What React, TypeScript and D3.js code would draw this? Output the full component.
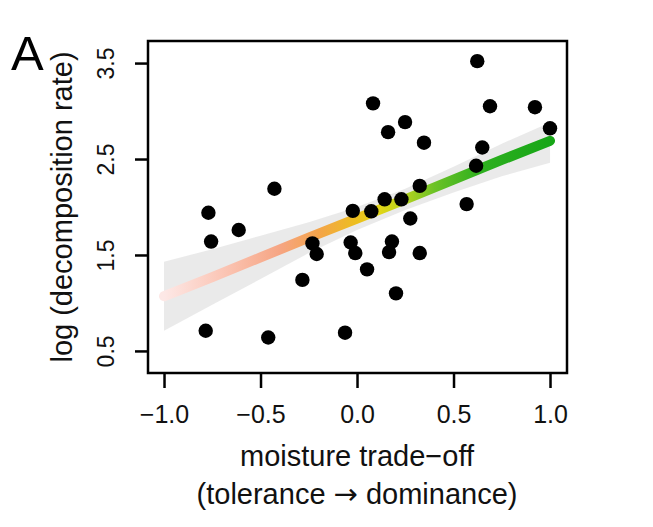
import React, { useEffect, useRef } from 'react';
import * as d3 from 'd3';

const WIDTH = 653;
const HEIGHT = 527;

const MARGIN = { top: 41, right: 86, bottom: 154, left: 148 };

// species: moisture trade-off score vs log decomposition rate
const tradeOff = [
  0.623, 0.083, 0.689, 0.922, 1.0, 0.249, 0.161, 0.347, 0.649, 0.617,
  -0.428, 0.325, -0.77, 0.143, 0.23, -0.022, 0.074, 0.568, 0.276, -0.613,
  -0.756, -0.231, -0.209, -0.033, -0.009, 0.181, 0.166, 0.325, 0.052, -0.283,
  0.202, -0.784, -0.46, -0.062,
];
const logRate = [
  3.52, 3.08, 3.05, 3.04, 2.82, 2.885, 2.78, 2.67, 2.62, 2.43,
  2.19, 2.22, 1.94, 2.08, 2.08, 1.96, 1.955, 2.03, 1.88, 1.76,
  1.64, 1.62, 1.51, 1.63, 1.52, 1.64, 1.53, 1.52, 1.35, 1.24,
  1.1, 0.71, 0.64, 0.69,
];

// fitted line and confidence band
const fitX = [-1, -0.75, -0.5, -0.25, 0, 0.25, 0.5, 0.75, 1];
const fitY = [1.07, 1.27, 1.475, 1.68, 1.88, 2.08, 2.285, 2.49, 2.69];
const bandLow = [0.71, 0.98, 1.25, 1.52, 1.76, 1.97, 2.15, 2.32, 2.46];
const bandHigh = [1.43, 1.56, 1.7, 1.84, 2.0, 2.19, 2.42, 2.66, 2.88];

const gradOffsets = [0, 0.15, 0.3, 0.4, 0.5, 0.56, 0.62, 0.7, 0.82, 1];
const gradColors = [
  '#fde8e6', '#fbc6b6', '#f6a583', '#f4a44a', '#ecbf1e',
  '#e0d516', '#b9d31e', '#6cc226', '#2eb01f', '#17a617',
];

const xTicks = [-1, -0.5, 0, 0.5, 1];
const yTicks = [0.5, 1.5, 2.5, 3.5];

const FONT = 'Liberation Sans, Arial, Helvetica, sans-serif';

export default function App() {
  const ref = useRef<SVGSVGElement>(null);

  useEffect(() => {
    const svg = d3.select(ref.current);
    svg.selectAll('*').remove();

    const x = d3.scaleLinear()
      .domain([-1.083, 1.088])
      .range([MARGIN.left, WIDTH - MARGIN.right]);

    const y = d3.scaleLinear()
      .domain([0.27, 3.73])
      .range([HEIGHT - MARGIN.bottom, MARGIN.top]);

    const grad = svg.append('defs')
      .append('linearGradient')
      .attr('id', 'fitGrad')
      .attr('gradientUnits', 'userSpaceOnUse')
      .attr('x1', x(-1)).attr('x2', x(1))
      .attr('y1', 0).attr('y2', 0);

    grad.selectAll('stop')
      .data(gradOffsets)
      .enter()
      .append('stop')
      .attr('offset', d => d)
      .attr('stop-color', (d, i) => gradColors[i]);

    const band = d3.area<number>()
      .x((d, i) => x(fitX[i]))
      .y0((d, i) => y(bandLow[i]))
      .y1((d, i) => y(bandHigh[i]));

    svg.append('path')
      .attr('d', band(fitX))
      .attr('fill', '#e6e6e6')
      .attr('opacity', 0.85);

    const line = d3.line<number>()
      .x((d, i) => x(fitX[i]))
      .y((d, i) => y(fitY[i]));

    svg.append('path')
      .attr('d', line(fitX))
      .attr('fill', 'none')
      .attr('stroke', 'url(#fitGrad)')
      .attr('stroke-width', 10)
      .attr('stroke-linecap', 'round');

    svg.selectAll('.pt')
      .data(tradeOff)
      .enter()
      .append('circle')
      .attr('cx', d => x(d))
      .attr('cy', (d, i) => y(logRate[i]))
      .attr('r', 7.2)
      .attr('fill', '#000');

    // frame
    svg.append('rect')
      .attr('x', MARGIN.left)
      .attr('y', MARGIN.top)
      .attr('width', WIDTH - MARGIN.left - MARGIN.right)
      .attr('height', HEIGHT - MARGIN.top - MARGIN.bottom)
      .attr('fill', 'none')
      .attr('stroke', '#000')
      .attr('stroke-width', 2.5);

    const xAxis = svg.append('g')
      .attr('transform', `translate(0, ${HEIGHT - MARGIN.bottom})`)
      .call(d3.axisBottom(x)
        .tickValues(xTicks)
        .tickSize(15)
        .tickSizeOuter(0)
        .tickPadding(8)
        .tickFormat(d => d3.format('.1f')(d as number).replace('-', '\u2212')));
    xAxis.select('.domain').remove();
    xAxis.selectAll('line').attr('stroke-width', 2.5);
    xAxis.selectAll('text')
      .attr('font-family', FONT)
      .attr('font-size', 25)
      .attr('fill', '#111')
      .attr('dy', null)
      .attr('y', 50);

    const yAxis = svg.append('g')
      .attr('transform', `translate(${MARGIN.left}, 0)`)
      .call(d3.axisLeft(y)
        .tickValues(yTicks)
        .tickSize(13)
        .tickSizeOuter(0)
        .tickFormat(d3.format('.1f')));
    yAxis.select('.domain').remove();
    yAxis.selectAll('line').attr('stroke-width', 2.5);
    yAxis.selectAll('text')
      .attr('font-family', FONT)
      .attr('font-size', 23)
      .attr('fill', '#111')
      .attr('x', null)
      .attr('dy', null)
      .attr('text-anchor', 'middle')
      .attr('transform', 'translate(-34, 0) rotate(-90)');

    svg.append('text')
      .attr('x', x(0))
      .attr('y', 466)
      .attr('text-anchor', 'middle')
      .attr('font-family', FONT)
      .attr('font-size', 29)
      .attr('fill', '#111')
      .text('moisture trade\u2212off');

    const sub = svg.append('text')
      .attr('x', x(0))
      .attr('y', 504)
      .attr('text-anchor', 'middle')
      .attr('font-family', FONT)
      .attr('font-size', 29)
      .attr('fill', '#111');
    sub.append('tspan').text('(tolerance ');
    sub.append('tspan')
      .attr('font-family', 'DejaVu Sans, sans-serif')
      .text('\u2192');
    sub.append('tspan').text(' dominance)');

    svg.append('text')
      .attr('transform', `translate(72, ${(MARGIN.top + HEIGHT - MARGIN.bottom) / 2}) rotate(-90)`)
      .attr('text-anchor', 'middle')
      .attr('font-family', FONT)
      .attr('font-size', 29)
      .attr('fill', '#111')
      .text('log (decomposition rate)');

    svg.append('text')
      .attr('x', 11)
      .attr('y', 70)
      .attr('font-family', FONT)
      .attr('font-size', 49)
      .attr('fill', '#000')
      .text('A');
  }, []);

  return (
    <svg
      ref={ref}
      width={WIDTH}
      height={HEIGHT}
      style={{ position: 'absolute', left: 0, top: 0, background: '#fff' }}
    />
  );
}
